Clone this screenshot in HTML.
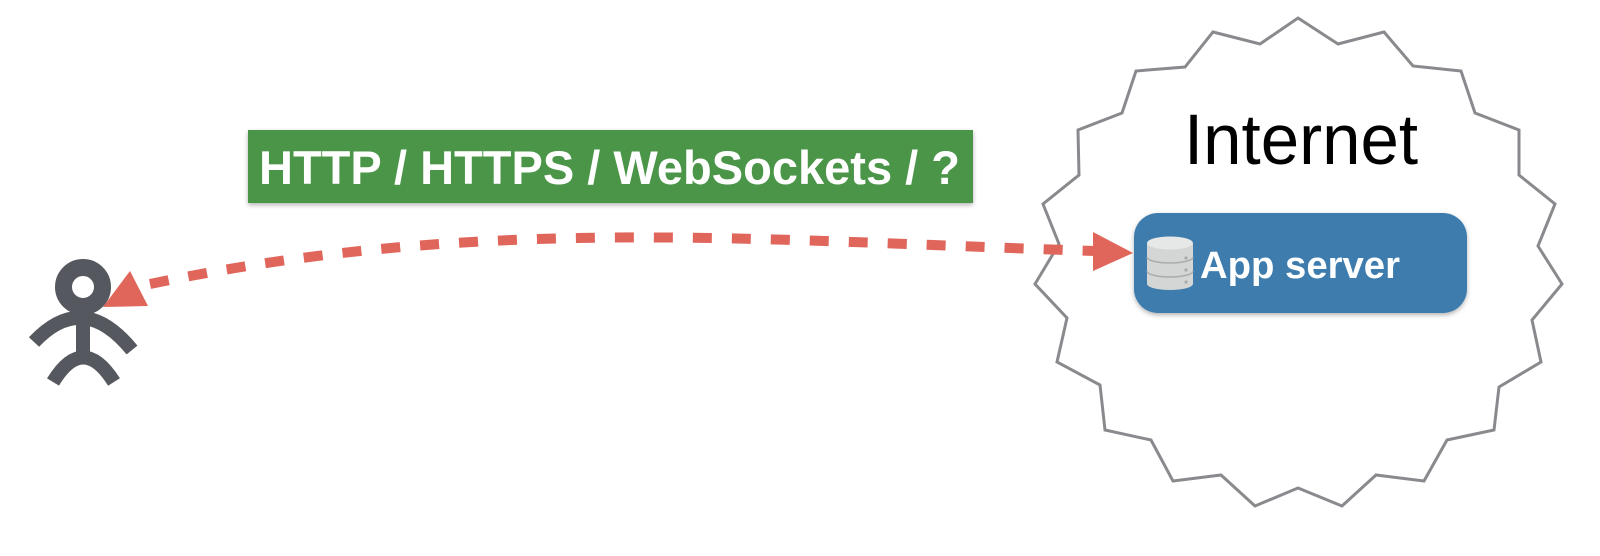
<!DOCTYPE html>
<html><head><meta charset="utf-8"><style>
html,body{margin:0;padding:0;background:#fff;}
svg{display:block;}
</style></head><body>
<svg width="1600" height="556" viewBox="0 0 1600 556" xmlns="http://www.w3.org/2000/svg">
<defs>
<filter id="sh" x="-10%" y="-10%" width="120%" height="130%">
<feDropShadow dx="0" dy="2" stdDeviation="2.5" flood-color="#000" flood-opacity="0.3"/>
</filter>
</defs>
<polygon fill="#fff" stroke="#8a8a8e" stroke-width="3" stroke-linejoin="miter" points="1298,18 1338,44 1384,32 1413,66 1461,71 1475,113 1519,130 1519,175 1555,204 1538,246 1562,284 1532,320 1541,362 1499,387 1494,430 1447,440 1424,481 1376,475 1342,506 1298,488 1255,506 1221,475 1173,481 1151,440 1105,430 1100,385 1057,362 1067,318 1035,284 1059,244 1043,204 1079,175 1078,130 1122,113 1136,71 1185,67 1213,32 1260,44"/>
<text x="1301" y="164" text-anchor="middle" font-family="Liberation Sans, sans-serif" font-size="71" fill="#000" textLength="234" lengthAdjust="spacingAndGlyphs">Internet</text>

<rect x="248" y="130" width="725" height="73" fill="#4b954a" filter="url(#sh)"/>
<text x="259" y="184" font-family="Liberation Sans, sans-serif" font-weight="bold" font-size="47" fill="#fff" textLength="701" lengthAdjust="spacingAndGlyphs">HTTP / HTTPS / WebSockets / ?</text>

<rect x="1134" y="213" width="333" height="100" rx="24" fill="#3e7bad" filter="url(#sh)"/>
<g>
<path d="M1147,243 L1147,284 A23,6 0 0 0 1193,284 L1193,243 Z" fill="#d4d6d6"/>
<ellipse cx="1170" cy="243" rx="23" ry="6.5" fill="#e6e8e8"/>
<path d="M1147,257 A23,6 0 0 0 1193,257" fill="none" stroke="#a9acad" stroke-width="1.5"/>
<path d="M1147,271 A23,6 0 0 0 1193,271" fill="none" stroke="#a9acad" stroke-width="1.5"/>
<circle cx="1186" cy="258" r="1.6" fill="#aaa"/>
<circle cx="1186" cy="270" r="1.6" fill="#aaa"/>
<circle cx="1186" cy="282" r="1.6" fill="#aaa"/>
</g>
<text x="1200" y="278" font-family="Liberation Sans, sans-serif" font-weight="bold" font-size="38" fill="#fff" textLength="200" lengthAdjust="spacingAndGlyphs">App server</text>

<path d="M150,284 C480,215 750,240 1095,251" fill="none" stroke="#e0655a" stroke-width="10" stroke-dasharray="19,20"/>
<polygon points="103,307 130,271 148,306" fill="#e0655a"/>
<polygon points="1133,253 1093,232 1093,271" fill="#e0655a"/>

<g fill="none" stroke="#55585f" stroke-width="14">
<circle cx="83" cy="287" r="19.5" stroke-width="17"/>
<line x1="83" y1="306" x2="83" y2="360"/>
<path d="M34,342 Q83,290 132,350"/>
<path d="M53,382 Q83,333 114,382"/>
</g>
</svg>
</body></html>
